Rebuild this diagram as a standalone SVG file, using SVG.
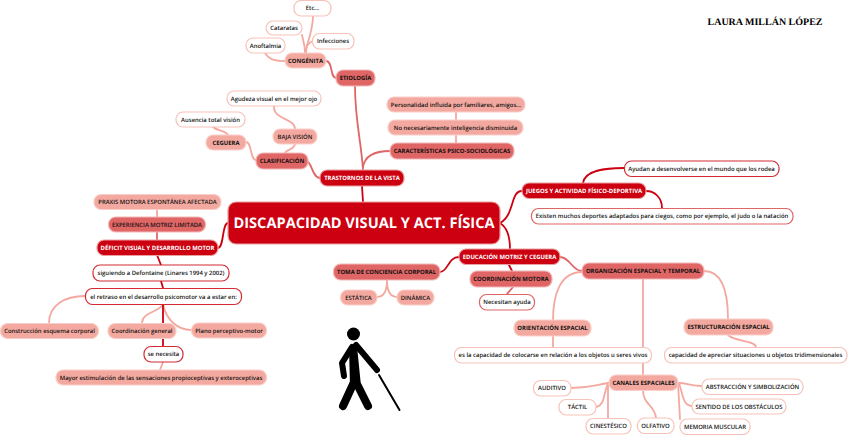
<svg xmlns="http://www.w3.org/2000/svg" width="848" height="435" viewBox="0 0 848 435">
<style>
text{font-family:"Open Sans","Noto Sans",sans-serif;font-size:5.920px;font-weight:600;text-anchor:middle;fill:#111;text-rendering:geometricPrecision}
.n text{transform:translateY(-.6px)}
.n rect{rx:7px;ry:7px;stroke-width:1.200}
.r rect{fill:#cc0010;stroke:#e9a0a0}.r text{fill:#fff;font-weight:700}
.m rect{fill:#e06666;stroke:#f2b8b8}.m text{font-weight:700;fill:#111}
.l rect{fill:#f4a9a0;stroke:#f9cfc9}
.w rect{fill:#fff;stroke:#f7c2ba}
.wr rect{fill:#fff;stroke:#d42a32}
.wm rect{fill:#fff;stroke:#e06666}
.c path{fill:none;stroke-linecap:round}
.cr{stroke:#cc0010;stroke-width:1.800}
.cm{stroke:#e06666;stroke-width:1.800}
.cl{stroke:#f4a9a0;stroke-width:1.800}
</style>
<rect width="848" height="435" fill="#fff"/>
<g id="connectors" class="c">
<path class="cr" d="M363 202L362 186"/>
<path class="cm" d="M363 170C361 140 355 120 355 86"/>
<path class="cm" d="M363 167C365 155 375 151 390 151"/>
<path class="cm" d="M320 178C312 178 312 161 306 161"/>
<path class="cl" d="M246 142C252 142 250 160 256 160"/>
<path class="cl" d="M228 135C225 130 217 131 213 127"/>
<path class="cl" d="M285 153C287 149 294 150 295 144"/>
<path class="cl" d="M295 129C295 118 273 120 274 106"/>
<path class="cm" d="M326 61C333 61 330 78 336 78"/>
<path class="cl" d="M285 61C272 61 268 58 265 53"/>
<path class="cl" d="M305 53C305 45 303 40 302 35"/>
<path class="cl" d="M305 53C308 40 313 30 313 16"/>
<path class="cl" d="M306 53C306 45 310 42 313 41"/>
<path class="cl" d="M456 143L456 135"/>
<path class="cl" d="M456 120L456 112"/>
<path class="cr" d="M500 223C515 215 510 191 522 191"/>
<path class="cr" d="M500 223C508 228 510 238 510 249"/>
<path class="cr" d="M228 223C222 223 224 248 218 248"/>
<path class="cr" d="M583 183C585 170 605 168 624 168"/>
<path class="cr" d="M646 191C655 191 662 198 662 208"/>
<path class="cm" d="M157 240L157 232"/>
<path class="cl" d="M157 217L157 210"/>
<path class="cr" d="M157 255L161 265"/>
<path class="cr" d="M161 281L163 288"/>
<path class="cl" d="M85 296C65 296 49 305 49 323"/>
<path class="cl" d="M163 304C160 312 142 312 142 323"/>
<path class="cl" d="M163 304C166 320 178 330 191 330"/>
<path class="cr" d="M163 304L163 346"/>
<path class="cl" d="M163 362L160 370"/>
<path class="cr" d="M459 257C448 257 448 272 440 272"/>
<path class="cl" d="M387 280C387 290 385 297 377 297"/>
<path class="cl" d="M387 280C387 290 390 297 397 297"/>
<path class="cr" d="M509 265L512 271"/>
<path class="cm" d="M513 287L507 294"/>
<path class="cm" d="M560 257C570 257 572 271 582 271"/>
<path class="cl" d="M582 272C560 272 553 295 553 320"/>
<path class="cl" d="M553 336L553 347"/>
<path class="cl" d="M704 271C725 271 728 300 728 319"/>
<path class="cl" d="M728 335C735 342 755 340 756 347"/>
<path class="cl" d="M643 279L643 375"/>
<path class="cl" d="M609 383C595 385 590 388 571 388"/>
<path class="cl" d="M608 383C603 395 605 405 596 407"/>
<path class="cl" d="M608 383L608 418"/>
<path class="cl" d="M643 390C643 405 655 405 656 418"/>
<path class="cl" d="M678 383L680 419"/>
<path class="cl" d="M679 383C683 395 683 406 692 406"/>
<path class="cl" d="M678 383C688 383 690 386 702 386"/>
</g>
<g id="title" class="n r"><rect x="228" y="202" width="272" height="42" style="rx:8px;ry:8px"/><text x="364" y="229" style="font-size:14.600px">DISCAPACIDAD VISUAL Y ACT. FÍSICA</text></g>
<g id="trastornos" class="n r"><rect x="320" y="170" width="84" height="16"/><text x="362" y="181">TRASTORNOS DE LA VISTA</text></g>
<g id="etiologia" class="n m"><rect x="336" y="70" width="39" height="16"/><text x="355.500" y="81">ETIOLOGÍA</text></g>
<g id="congenita" class="n l"><rect x="285" y="53" width="41" height="15"/><text x="305.500" y="63.500" style="font-weight:700">CONGÉNITA</text></g>
<g id="etc" class="n w"><rect x="294" y="0.500" width="37" height="15.500"/><text x="312.500" y="11">Etc...</text></g>
<g id="cataratas" class="n w"><rect x="266" y="21" width="36" height="14"/><text x="284" y="31">Cataratas</text></g>
<g id="infecciones" class="n w"><rect x="312.500" y="33.500" width="41.500" height="15.500"/><text x="333" y="44">Infecciones</text></g>
<g id="anoftalmia" class="n w"><rect x="246" y="38" width="39" height="15"/><text x="265.500" y="48.500">Anoftalmia</text></g>
<g id="agudeza" class="n w"><rect x="227" y="91" width="94" height="15"/><text x="274" y="101.500">Agudeza visual en el mejor ojo</text></g>
<g id="personalidad" class="n l"><rect x="387" y="97" width="138" height="15"/><text x="456" y="107.500">Personalidad influida por familiares, amigos...</text></g>
<g id="inteligencia" class="n l"><rect x="388" y="120" width="135" height="15"/><text x="455.500" y="130.500">No necesariamente inteligencia disminuida</text></g>
<g id="caracteristicas" class="n m"><rect x="390" y="143" width="124" height="16"/><text x="452" y="154">CARACTERÍSTICAS PSICO-SOCIOLÓGICAS</text></g>
<g id="baja" class="n l"><rect x="273" y="129" width="44" height="15"/><text x="295" y="139.500">BAJA VISIÓN</text></g>
<g id="ausencia" class="n w"><rect x="176" y="112" width="69" height="15"/><text x="210.500" y="122.500">Ausencia total visión</text></g>
<g id="ceguera" class="n l"><rect x="206" y="135" width="40" height="15"/><text x="226" y="145.500" style="font-weight:700">CEGUERA</text></g>
<g id="clasificacion" class="n m"><rect x="256" y="153" width="52" height="16"/><text x="282" y="164">CLASIFICACIÓN</text></g>
<g id="praxis" class="n l"><rect x="94" y="194.500" width="127" height="15"/><text x="157.500" y="205">PRAXIS MOTORA ESPONTÁNEA AFECTADA</text></g>
<g id="experiencia" class="n m"><rect x="108.500" y="217" width="97" height="15"/><text x="157" y="227.500" style="font-weight:600">EXPERIENCIA MOTRIZ LIMITADA</text></g>
<g id="deficit" class="n r"><rect x="97" y="240" width="121" height="15.500"/><text x="157.500" y="250.500">DÉFICIT VISUAL Y DESARROLLO MOTOR</text></g>
<g id="defontaine" class="n wr"><rect x="93" y="265" width="136" height="16"/><text x="161" y="276">siguiendo a Defontaine (Linares 1994 y 2002)</text></g>
<g id="retraso" class="n wr"><rect x="85.500" y="288.500" width="156" height="16"/><text x="163.500" y="299.500">el retraso en el desarrollo psicomotor va a estar en:</text></g>
<g id="construccion" class="n l"><rect x="0.500" y="323.500" width="98" height="15"/><text x="49.500" y="334">Construcción esquema corporal</text></g>
<g id="coordinacion" class="n l"><rect x="108" y="323.500" width="68" height="15"/><text x="142" y="334">Coordinación general</text></g>
<g id="plano" class="n l"><rect x="191.500" y="323" width="75" height="15"/><text x="229" y="333.500">Plano perceptivo-motor</text></g>
<g id="necesita" class="n wr"><rect x="144" y="346.500" width="39" height="15.500"/><text x="163.500" y="357">se necesita</text></g>
<g id="mayor" class="n l"><rect x="56" y="370" width="210.500" height="15"/><text x="161" y="380.500">Mayor estimulación de las sensaciones propioceptivas y exteroceptivas</text></g>
<g id="juegos" class="n r"><rect x="522" y="183" width="124" height="15.500"/><text x="584" y="193.500">JUEGOS Y ACTIVIDAD FÍSICO-DEPORTIVA</text></g>
<g id="ayudan" class="n wr"><rect x="624.500" y="161" width="154.500" height="15.500"/><text x="701.500" y="171.500">Ayudan a desenvolverse en el mundo que los rodea</text></g>
<g id="existen" class="n wm"><rect x="531.500" y="208.500" width="261.500" height="15.500"/><text x="662" y="219">Existen muchos deportes adaptados para ciegos, como por ejemplo, el judo o la natación</text></g>
<g id="educacion" class="n r"><rect x="459" y="249" width="101" height="15.500"/><text x="509.500" y="259.500">EDUCACIÓN MOTRIZ Y CEGUERA</text></g>
<g id="toma" class="n m"><rect x="333.500" y="264" width="106.500" height="16"/><text x="386.500" y="275">TOMA DE CONCIENCIA CORPORAL</text></g>
<g id="estatica" class="n l"><rect x="340.500" y="290" width="36.500" height="15"/><text x="358.500" y="300.500">ESTÁTICA</text></g>
<g id="dinamica" class="n l"><rect x="397" y="290" width="37" height="15"/><text x="415.500" y="300.500">DINÁMICA</text></g>
<g id="coordmotora" class="n m"><rect x="470" y="271" width="82" height="16"/><text x="511" y="282">COORDINACIÓN MOTORA</text></g>
<g id="ayuda" class="n wm"><rect x="479.500" y="294.500" width="55" height="15.500"/><text x="507" y="305">Necesitan ayuda</text></g>
<g id="organizacion" class="n m"><rect x="582" y="263" width="122" height="16"/><text x="643" y="274">ORGANIZACIÓN ESPACIAL Y TEMPORAL</text></g>
<g id="orientacion" class="n l"><rect x="514" y="320" width="77" height="16"/><text x="552.500" y="331" style="font-weight:700">ORIENTACIÓN ESPACIAL</text></g>
<g id="esla" class="n w"><rect x="454.500" y="347.500" width="197" height="15.500"/><text x="553" y="358">es la capacidad de colocarse en relación a los objetos u seres vivos</text></g>
<g id="estructuracion" class="n l"><rect x="684" y="319" width="89" height="16"/><text x="728.500" y="330" style="font-weight:700">ESTRUCTURACIÓN ESPACIAL</text></g>
<g id="capacidad" class="n w"><rect x="664.500" y="347.500" width="182.500" height="15.500"/><text x="755.500" y="358">capacidad de apreciar situaciones u objetos tridimensionales</text></g>
<g id="canales" class="n l"><rect x="609" y="375" width="69" height="15.500"/><text x="643.500" y="385.500" style="font-weight:700">CANALES ESPACIALES</text></g>
<g id="auditivo" class="n w"><rect x="533.500" y="380.500" width="37.500" height="15.500"/><text x="552" y="391">AUDITIVO</text></g>
<g id="tactil" class="n w"><rect x="559" y="399.500" width="37" height="15.500"/><text x="577.500" y="410">TÁCTIL</text></g>
<g id="cinestesico" class="n w"><rect x="586" y="418.500" width="45" height="15.500"/><text x="608.500" y="429">CINESTÉSICO</text></g>
<g id="olfativo" class="n w"><rect x="637.500" y="418" width="36.500" height="15.500"/><text x="655.500" y="428.500">OLFATIVO</text></g>
<g id="memoria" class="n w"><rect x="680" y="419" width="70" height="15.500"/><text x="715" y="429.500">MEMORIA MUSCULAR</text></g>
<g id="sentido" class="n w"><rect x="692" y="399" width="94" height="15"/><text x="739" y="409.500">SENTIDO DE LOS OBSTÁCULOS</text></g>
<g id="abstraccion" class="n w"><rect x="702" y="379" width="101" height="15.500"/><text x="752.500" y="389.500">ABSTRACCIÓN Y SIMBOLIZACIÓN</text></g>
<text x="765" y="25" style="font-family:'Liberation Serif',serif;font-size:10px;font-weight:700;fill:#000">LAURA MILLÁN LÓPEZ</text>
<g id="person" fill="none" stroke="#000" stroke-linecap="round" stroke-linejoin="round">
<circle cx="353.500" cy="334" r="6.500" fill="#000" stroke="none"/>
<path d="M350 347L356 346L360 386L351 386Z" fill="#000" stroke="#000" stroke-width="2"/>
<path d="M352 347L342 363L344 376" stroke-width="6"/>
<path d="M356 345L377 370" stroke-width="6"/>
<path d="M355 380L343 406" stroke-width="8"/>
<path d="M358 386L368 406" stroke-width="8"/>
<path d="M379 375L399.500 410" stroke-width="2"/>
</g>
</svg>
